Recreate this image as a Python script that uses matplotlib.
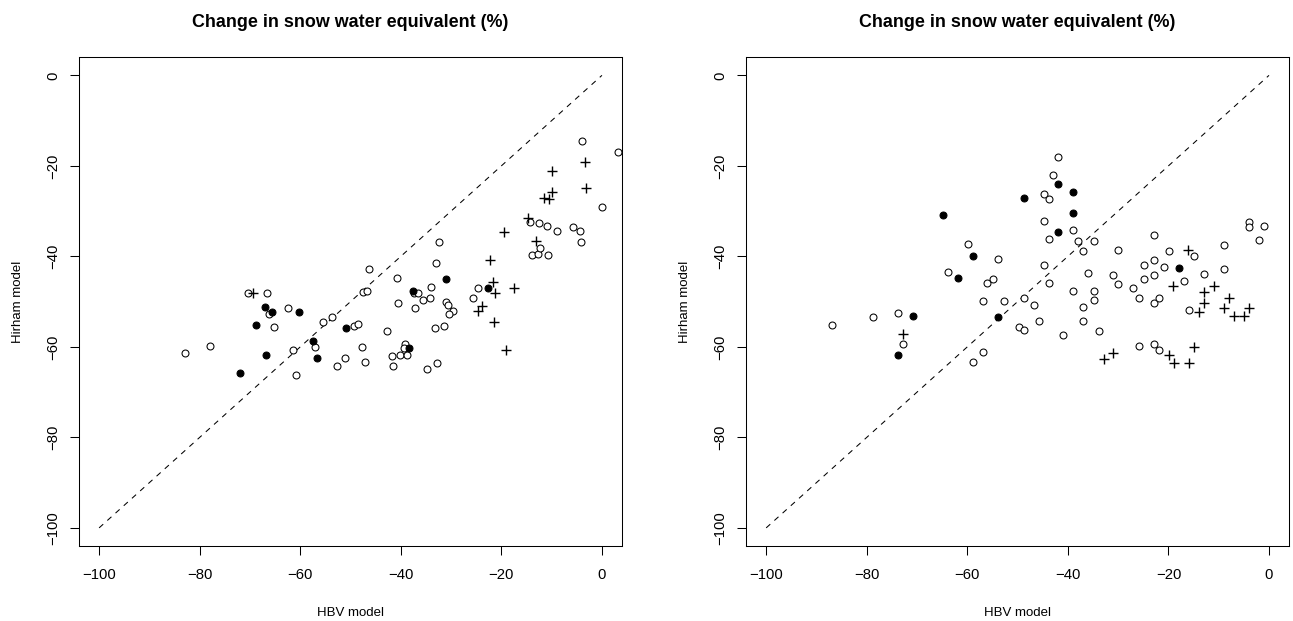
import matplotlib
matplotlib.use("Agg")
import matplotlib.pyplot as plt

plt.rcParams['font.family'] = ['Liberation Sans', 'DejaVu Sans']

# left panel
left_open_x = [-82.9, -77.9, -70.4, -66.6, -66.2, -62.4, -65.2, -55.5, -53.7, -61.4, -57.1, -60.8,
               -52.7, -51.1, -49.3, -48.5, -47.7, -47.1, -47.5, -46.7, -46.3, -42.7, -41.7, -41.5,
               -40.7, -40.6, -40.2, -39.2, -39.4, -38.8, -37.4, -36.6, -37.2, -35.6, -34.8, -34.2,
               -34.0, -33.2, -33.0, -32.8, -32.4, -31.4, -31.0, -30.6, -29.6, -30.4, -25.6, -24.7,
               -13.9, -12.7, -14.3, -12.5, -10.9, -8.9, -5.8, -4.4, -4.2, -12.3, -10.7, -4.0, 3.2, 0.0]
left_open_y = [-61.3, -59.7, -48.2, -48.0, -52.7, -51.5, -55.5, -54.6, -53.3, -60.6, -60.0, -66.2,
               -64.2, -62.4, -55.3, -54.9, -60.0, -63.3, -47.8, -47.6, -42.9, -56.4, -62.0, -64.2,
               -44.7, -50.4, -61.7, -59.3, -60.2, -61.9, -48.2, -48.0, -51.5, -49.6, -64.8, -49.1,
               -46.7, -55.8, -41.4, -63.5, -36.9, -55.3, -50.0, -50.7, -52.0, -52.7, -49.1, -46.9,
               -39.8, -39.4, -32.5, -32.7, -33.2, -34.3, -33.6, -34.5, -36.9, -38.1, -39.8, -14.6, -17.0, -29.0]
left_fill_x = [-67.0, -65.6, -60.2, -68.8, -50.9, -57.5, -56.7, -66.8, -72.0, -38.4, -37.6, -31.0, -22.7]
left_fill_y = [-51.1, -52.2, -52.4, -55.1, -55.8, -58.8, -62.4, -61.7, -65.7, -60.2, -47.6, -45.1, -47.1]
left_plus_x = [-69.4, -24.7, -23.9, -22.3, -21.7, -21.3, -21.5, -17.5, -19.1, -19.5, -13.1, -3.4,
               -9.9, -3.2, -9.9, -11.5, -10.5, -14.7]
left_plus_y = [-48.2, -52.0, -50.9, -40.9, -45.6, -48.0, -54.4, -47.1, -60.8, -34.7, -36.5, -19.2,
               -21.2, -25.0, -25.7, -27.2, -27.4, -31.6]

# right panel
right_open_x = [-59.9, -63.9, -86.9, -78.8, -73.8, -72.8, -56.0, -56.9, -56.9, -58.9, -41.9, -42.9,
                -44.8, -43.8, -44.8, -43.8, -38.9, -37.9, -34.9, -36.9, -22.8, -30.0, -19.8, -14.9,
                -8.9, -4.0, -4.0, -1.0, -2.0, -53.8, -44.8, -43.8, -54.8, -52.8, -48.8, -46.8,
                -49.8, -48.8, -45.8, -40.9, -38.9, -35.9, -36.9, -34.9, -34.9, -36.9, -33.9, -31.0,
                -30.0, -27.0, -25.8, -24.8, -24.8, -22.8, -22.8, -20.8, -22.8, -21.8, -16.9, -12.9,
                -8.9, -15.9, -25.8, -22.8, -21.8]
right_open_y = [-37.2, -43.4, -55.1, -53.5, -52.6, -59.3, -45.8, -49.8, -61.1, -63.3, -18.1, -22.1,
                -26.3, -27.4, -32.1, -36.1, -34.1, -36.5, -36.7, -38.9, -35.2, -38.7, -38.9, -40.0,
                -37.4, -32.5, -33.4, -33.2, -36.3, -40.5, -41.8, -45.8, -45.1, -49.8, -49.3, -50.7,
                -55.5, -56.2, -54.2, -57.3, -47.6, -43.6, -51.1, -47.6, -49.6, -54.2, -56.4, -44.2,
                -46.0, -46.9, -49.3, -42.0, -44.9, -40.9, -44.2, -42.3, -50.2, -49.1, -45.4, -43.8,
                -42.7, -51.8, -59.7, -59.3, -60.6]
right_fill_x = [-64.9, -58.9, -61.9, -70.8, -73.8, -41.9, -48.8, -38.9, -38.9, -41.9, -53.8, -17.9]
right_fill_y = [-30.8, -40.0, -44.7, -53.1, -61.7, -23.9, -27.0, -25.7, -30.5, -34.7, -53.3, -42.5]
right_plus_x = [-72.8, -16.1, -19.0, -10.9, -12.9, -7.9, -12.9, -13.9, -8.9, -6.9, -5.0, -4.0,
                -19.8, -18.8, -14.9, -15.9, -32.9, -31.0]
right_plus_y = [-57.1, -38.5, -46.5, -46.5, -47.8, -49.1, -50.4, -52.2, -51.5, -53.1, -53.1, -51.5,
                -61.7, -63.5, -60.0, -63.5, -62.6, -61.3]

ticks = [-100, -80, -60, -40, -20, 0]
tick_labels = ['\u2212100', '\u221280', '\u221260', '\u221240', '\u221220', '0']


def panel(ax, ox, oy, fx, fy, px, py):
    ax.plot([-100, 0], [-100, 0], color='black', lw=0.75, linestyle=(0, (5.3, 5.3)))
    ax.plot(ox, oy, linestyle='none', marker='o', ms=5.0, mfc='white', mec='black', mew=0.75)
    ax.plot(fx, fy, linestyle='none', marker='o', ms=5.0, mfc='black', mec='black', mew=0.75)
    ax.plot(px, py, linestyle='none', marker='+', ms=6.8, mec='black', mew=1.0)
    ax.set_xlim(-104, 4)
    ax.set_ylim(-104, 4)
    ax.set_xticks(ticks)
    ax.set_xticklabels(tick_labels)
    ax.set_yticks(ticks)
    ax.set_yticklabels(tick_labels, rotation=90, va='center')
    ax.tick_params(direction='out', length=6.5, width=0.75, labelsize=10.7, pad=9)
    ax.tick_params(axis='y', pad=7)
    for s in ax.spines.values():
        s.set_linewidth(0.75)
    ax.set_xlabel('HBV model', fontsize=9.5, labelpad=18)
    ax.set_ylabel('Hirham model', fontsize=9.5, labelpad=16)
    ax.set_title('Change in snow water equivalent (%)', fontsize=12.9, fontweight='bold', pad=22)


fig = plt.figure(figsize=(12.93, 6.21), dpi=100)
ax1 = fig.add_axes([0.0611, 0.1208, 0.420, 0.787])
ax2 = fig.add_axes([0.577, 0.1208, 0.420, 0.787])
panel(ax1, left_open_x, left_open_y, left_fill_x, left_fill_y, left_plus_x, left_plus_y)
panel(ax2, right_open_x, right_open_y, right_fill_x, right_fill_y, right_plus_x, right_plus_y)

fig.savefig('out.png', dpi=100)
